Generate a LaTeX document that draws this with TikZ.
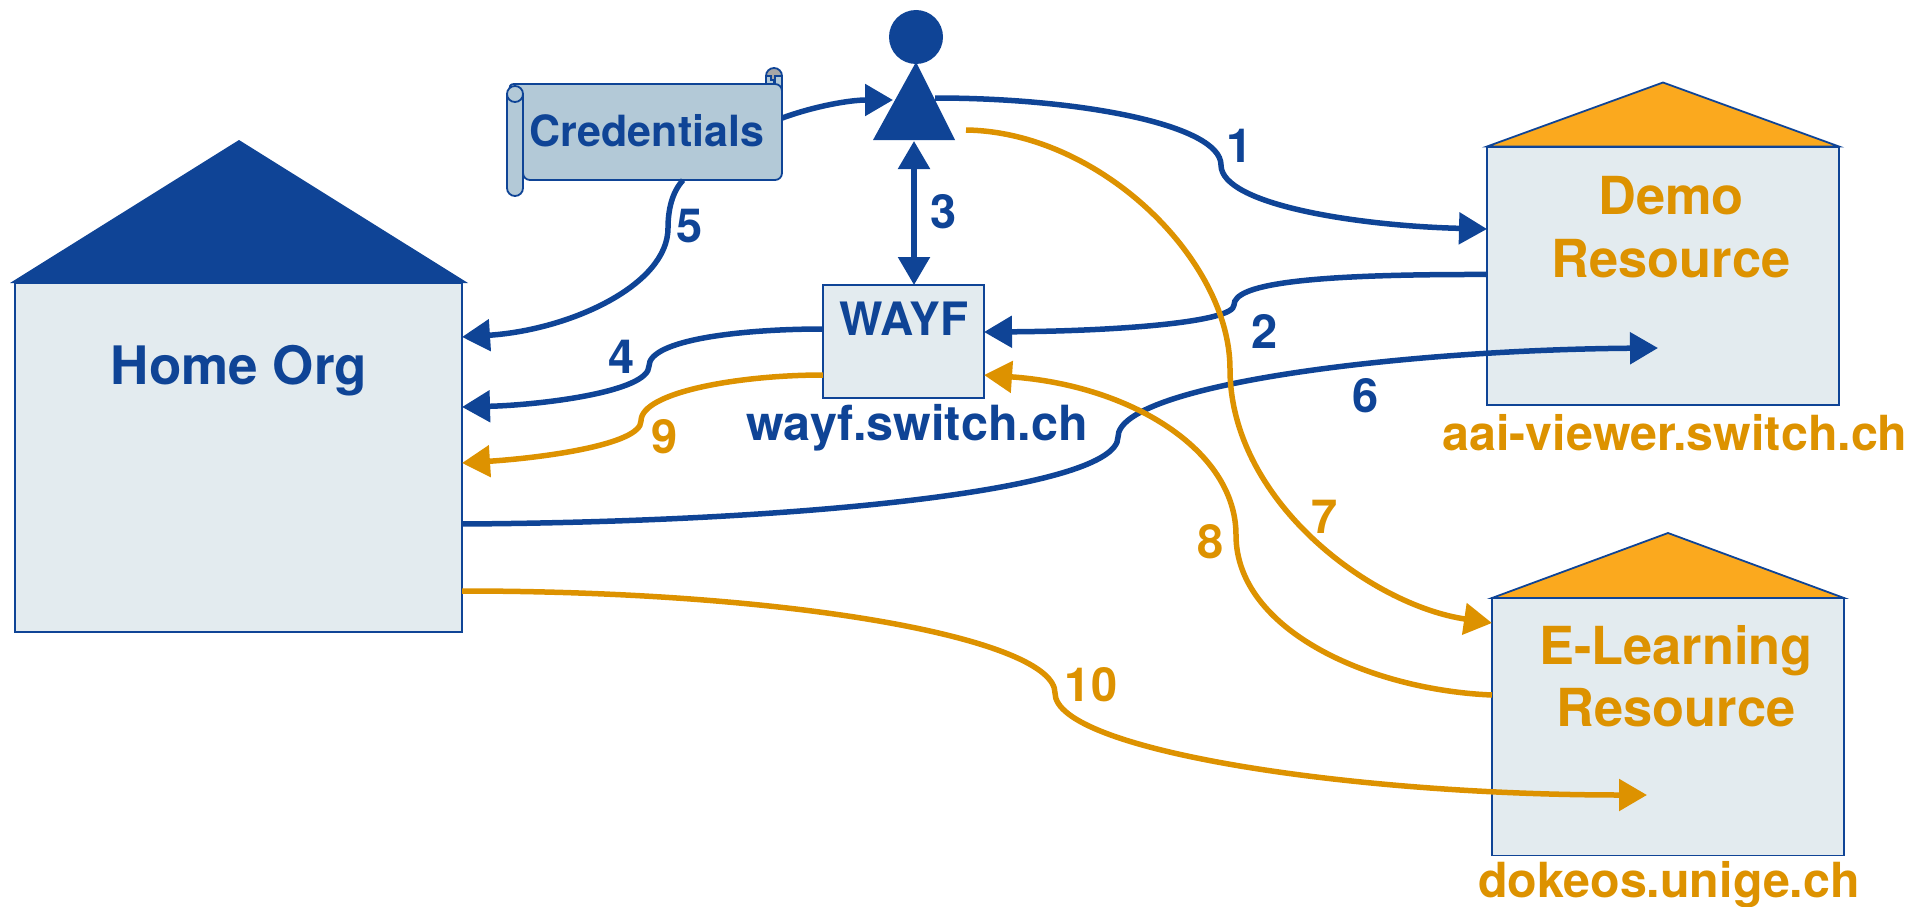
\documentclass[tikz,border=0pt]{standalone}
\usepackage{fontspec}
\setmainfont{TeX Gyre Heros}
\usetikzlibrary{arrows.meta,calc}
\definecolor{blu}{HTML}{0F4496}
\definecolor{ora}{HTML}{DD9200}
\definecolor{roof}{HTML}{FBA91E}
\definecolor{boxf}{HTML}{E3EBEF}
\definecolor{credf}{HTML}{B3C9D7}
\tikzset{
 site/.style={draw=blu,line width=1.8pt,fill=boxf,rectangle,inner sep=0pt,outer sep=0pt},
 bl/.style={text=blu,font=\bfseries\fontsize{#1}{#1}\selectfont,inner sep=0pt},
 or/.style={text=ora,font=\bfseries\fontsize{#1}{#1}\selectfont,inner sep=0pt,align=center},
 conb/.style={draw=blu,line width=5.5pt,-{Triangle[length=28pt,width=31pt]}},
 cono/.style={draw=ora,line width=5.5pt,-{Triangle[length=28pt,width=31pt]}},
}
\begin{document}
\begin{tikzpicture}[x=1pt,y=-1pt]
\useasboundingbox (0,0) rectangle (1930,907);
% houses
\node[site,minimum width=447pt,minimum height=349pt] (home) at (238.5,457.5) {};
\fill[blu] (10,283) -- (239,140) -- (468,283) -- cycle;
\node[site,minimum width=352pt,minimum height=258.5pt] (demo) at (1663,276) {};
\filldraw[fill=roof,draw=blu,line width=1.8pt] (1487,146.5) -- (1663,82.5) -- (1839,146.5) -- cycle;
\node[site,minimum width=352pt,minimum height=257.5pt] (elearn) at (1668,726.7) {};
\filldraw[fill=roof,draw=blu,line width=1.8pt] (1492,598) -- (1668,533) -- (1844,598) -- cycle;
\node[site,minimum width=161pt,minimum height=113pt] (wayf) at (903.5,341.5) {};
% credentials scroll
\filldraw[draw=blu,line width=1.8pt,fill=gray!70] (774,76) circle[radius=8];
\draw[blu,line width=1.5pt,fill=credf] (766,86) -- (766,76) -- (771,76) -- (771,80) -- (774,80) -- (774,86);
\draw[blu,line width=1.8pt,fill=credf] (782,76) -- (782,90) -- (775,90) -- (775,76) -- cycle;
\filldraw[draw=blu,line width=1.8pt,fill=credf,rounded corners=7pt] (507,84) -- (782,84) -- (782,180) -- (523,180) -- (523,110) -- cycle;
\draw[blu,line width=1.8pt] (766,84) -- (766,76);
\path[draw=blu,line width=1.8pt,fill=credf] (507,94) -- (523,94) -- (523,188) arc[start angle=0,end angle=180,radius=8] -- cycle;
\filldraw[draw=blu,line width=1.8pt,fill=credf] (515,94) circle[radius=8];
\node (credbody) at (644.5,132) [minimum width=275pt,minimum height=96pt,inner sep=0pt] {};
% person
\fill[blu] (916,37) circle[radius=27];
\fill[blu] (916,62) -- (955,140) -- (873,140) -- cycle;
\coordinate (personright) at (935,98);
\coordinate (personright2) at (966,130);
\coordinate (personbelow) at (914,141);
% connectors
\draw[conb] (credbody.east |- 0,118) .. controls (815,106) and (850,100) .. (893,100);
\draw[conb] (personright) .. controls (1080,98) and (1221,125) .. (1221,165) .. controls (1221,205) and (1360,226) .. ([yshift=47pt]demo.west);
\draw[conb] ([yshift=1.5pt]demo.west) .. controls (1300,274) and (1234,285) .. (1234,305) .. controls (1234,322) and (1120,331) .. ([yshift=9.5pt]wayf.east);
\draw[draw=blu,line width=5.5pt,{Triangle[length=28pt,width=31pt]}-{Triangle[length=28pt,width=31pt]}] (personbelow) -- ([xshift=10.5pt]wayf.north);
\draw[conb] ([yshift=12.5pt]wayf.west) .. controls (740,329) and (649,340) .. (649,366) .. controls (649,392) and (540,405) .. ([yshift=50.5pt]home.east);
\draw[conb] ($(credbody.south west)!0.64!(credbody.south east)$) .. controls (672,192) and (668,210) .. (668,228) .. controls (668,285) and (570,330) .. ([yshift=120.5pt]home.east);
\draw[conb] ([yshift=-66.5pt]home.east) .. controls (800,522) and (1118,490) .. (1118,437) .. controls (1118,385) and (1400,350) .. ([xshift=-5pt,yshift=-72pt]demo.center);
\draw[cono] (personright2) .. controls (1100,132) and (1230,260) .. (1230,369) .. controls (1230,500) and (1370,605) .. ([yshift=103.7pt]elearn.west);
\draw[cono] ([yshift=31.7pt]elearn.west) .. controls (1370,690) and (1236,630) .. (1236,535) .. controls (1236,450) and (1130,385) .. ([yshift=-33.5pt]wayf.east);
\draw[cono] ([yshift=-33.5pt]wayf.west) .. controls (740,375) and (641,392) .. (641,421) .. controls (641,445) and (540,458) .. ([yshift=-5.5pt]home.east);
\draw[cono] ([yshift=-133.5pt]home.east) .. controls (800,591) and (1055,640) .. (1055,693) .. controls (1055,750) and (1350,795) .. ([xshift=-21pt,yshift=-68.3pt]elearn.center);
% texts
\node[bl=53] (thome) at (239,371) {Home Org};
\node[bl=43] (tcred) at (647,131) {Credentials};
\node[bl=46] (twayf) at (904,319) {WAYF};
\node[bl=48.5] (twayfu) at (917,428) {wayf.switch.ch};
\node[or=52.4] (tdemo) at (1671,227) {Demo\\[10pt]Resource};
\node[or=48.4] (tdemou) at (1675,433) {aai-viewer.switch.ch};
\node[or=52.4] (telearn) at (1676,676) {E-Learning\\[10pt]Resource};
\node[or=48.4] (telearnu) at (1669,885) {dokeos.unige.ch};
\node[bl=47] (n1) at (1240,146) {1};
\node[bl=47] (n2) at (1265,331) {2};
\node[bl=47] (n3) at (944,212) {3};
\node[bl=47] (n4) at (622,357) {4};
\node[bl=47] (n5) at (690,226) {5};
\node[bl=47] (n6) at (1366,396) {6};
\node[or=47] (n7) at (1325,517) {7};
\node[or=47] (n8) at (1211,542) {8};
\node[or=47] (n9) at (665,437) {9};
\node[or=47] (n10) at (1091,685) {10};
\end{tikzpicture}
\end{document}
